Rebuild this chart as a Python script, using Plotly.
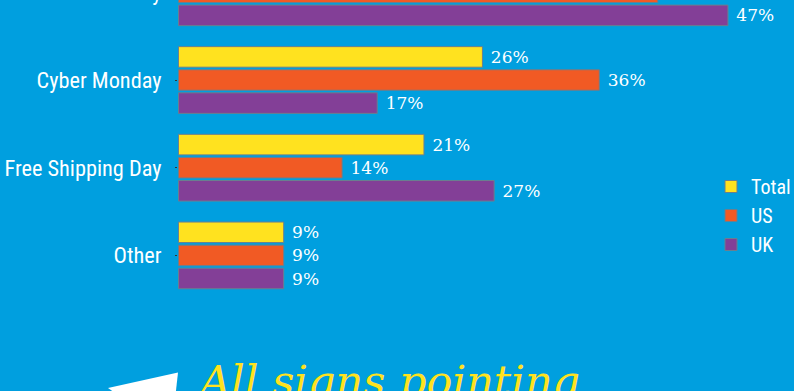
import plotly.graph_objects as go

categories = ["Black Friday", "Cyber Monday", "Free Shipping Day", "Other"]
total = [44, 26, 21, 9]
us = [41, 36, 14, 9]
uk = [47, 17, 27, 9]
series_names = ["Total", "US", "UK"]
colors = ["#FFE21F", "#F15A24", "#833F97"]

BG = "#009FDF"
OUTLINE = "#6a7f8f"
W, H = 794, 391
L = 178
COND = "Roboto Condensed, Liberation Sans Narrow, DejaVu Sans Condensed"

def px_x(px):
    return (px - L) / (W - L)

def px_y(py):
    return 1 - py / H

fig = go.Figure()
for name, vals, col in zip(series_names, [total, us, uk], colors):
    fig.add_trace(go.Bar(
        name=name, y=categories, x=vals, orientation="h",
        marker=dict(color=col, line=dict(color=OUTLINE, width=1)),
        texttemplate=" %{x}%", textposition="outside", cliponaxis=False,
        textfont=dict(family="DejaVu Serif", size=17, color="white"),
    ))

fig.update_layout(
    width=W, height=H,
    margin=dict(l=L, r=0, t=0, b=0, pad=0, autoexpand=False),
    paper_bgcolor=BG, plot_bgcolor=BG,
    barmode="group", bargap=0.21, bargroupgap=0.11,
    showlegend=True,
    legend=dict(
        x=px_x(711), xanchor="left", y=px_y(167), yanchor="top",
        font=dict(family=COND, size=20, color="white"),
        bgcolor="rgba(0,0,0,0)", tracegroupgap=0,
    ),
    xaxis=dict(range=[-0.04, 52.65], visible=False, showgrid=False, zeroline=False),
    yaxis=dict(
        type="category", categoryorder="array", categoryarray=categories,
        range=[4.546, 0.0878], showgrid=False, zeroline=False, showline=False,
        automargin=False,
        ticks="outside", ticklen=2, tickcolor="#333", tickwidth=1,
        ticklabelstandoff=9,
        tickfont=dict(family=COND, size=22.3, color="white"),
    ),
    font=dict(family=COND),
)

# Black Friday label lies above the visible window (cropped)
fig.add_annotation(
    text=categories[0], xref="paper", yref="paper",
    x=px_x(164), y=px_y(-7.7), xanchor="right", yanchor="middle",
    showarrow=False,
    font=dict(family=COND, size=22.3, color="white"),
)

# bottom headline (cropped)
fig.add_annotation(
    text="<i>All signs pointing</i>", xref="paper", yref="paper",
    x=px_x(194), y=px_y(354), xanchor="left", yanchor="top",
    showarrow=False,
    font=dict(family="DejaVu Serif", size=43, color="#FFE21F"),
)

# white arrow decoration
pts = [(108, 388), (178, 372.5), (175.5, 395), (118, 395)]
path = "M " + " L ".join(f"{px_x(a):.5f},{px_y(b):.5f}" for a, b in pts) + " Z"
fig.add_shape(type="path", xref="paper", yref="paper", path=path,
              fillcolor="white", line=dict(width=0), layer="above")

fig.write_html("out.html")
